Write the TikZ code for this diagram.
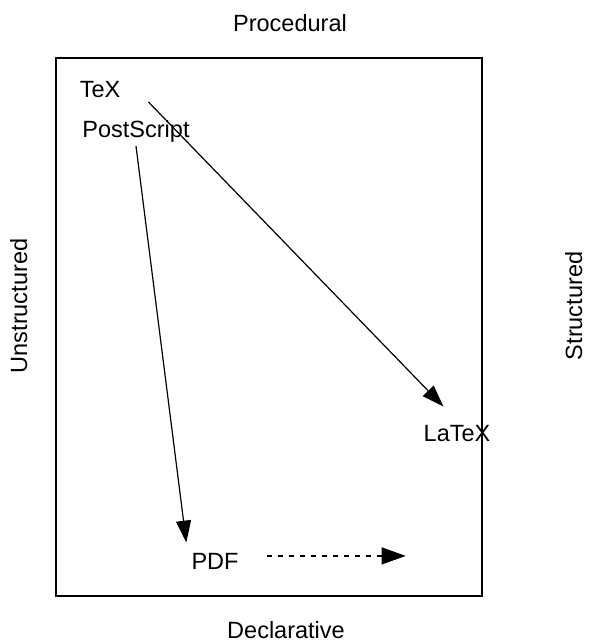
\documentclass[tikz,border=0pt]{standalone}
\usepackage{fontspec}
\setmainfont{Liberation Sans}
\usetikzlibrary{arrows.meta,calc}
\begin{document}
\begin{tikzpicture}[x=1pt,y=1pt,
  lbl/.style={inner sep=0pt,font=\fontsize{23.5}{28}\selectfont},
  conn/.style={line width=1.2pt,-{Triangle[length=22pt,width=15pt]}},
  dconn/.style={line width=1.2pt,dash pattern=on 5.5pt off 5.5pt,-{Triangle[length=24pt,width=17pt]}}]
\useasboundingbox (0,0) rectangle (589,643);
\draw[line width=1.4pt] (56,47) rectangle (482,585);
\node[lbl,anchor=base] (proc) at (290,611) {Procedural};
\node[lbl,anchor=base] (decl) at (286,4.5) {Declarative};
\node[lbl,rotate=90,anchor=base] (unstr) at (27,337) {Unstructured};
\node[lbl,rotate=90,anchor=base] (str) at (582,337) {Structured};
\node[lbl,anchor=base] (tex) at (100,545) {TeX};
\node[lbl,anchor=base] (ps) at (136,505) {PostScript};
\node[lbl,anchor=base] (latex) at (457,201) {LaTeX};
\node[lbl,anchor=base] (pdf) at (215,73) {PDF};
\coordinate (texout) at ($(tex.base east)+(28,-4)$);
\coordinate (latexin) at ($(latex.north west)+(20,19)$);
\coordinate (psout) at ($(ps.south)+(0,-3)$);
\coordinate (pdfin) at ($(pdf.north west)+(-5,11)$);
\coordinate (pdfout) at ($(pdf.east)+(28,6)$);
\coordinate (pdfend) at ($(pdf.east)+(167,6)$);
\draw[conn] (texout) -- (latexin);
\draw[conn] (psout) -- (pdfin);
\draw[dconn] (pdfout) -- (pdfend);
\end{tikzpicture}
\end{document}
